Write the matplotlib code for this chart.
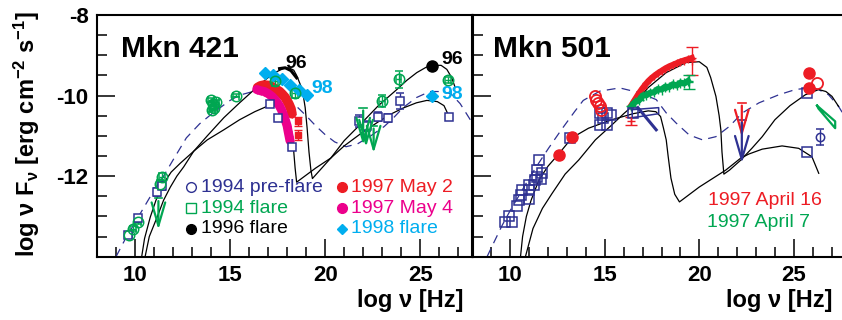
import matplotlib.pyplot as plt

plt.rcParams['font.family'] = 'Liberation Sans'
plt.rcParams['axes.unicode_minus'] = False
plt.rcParams['mathtext.fontset'] = 'custom'
plt.rcParams['mathtext.rm'] = 'Liberation Sans:bold'
plt.rcParams['mathtext.it'] = 'Liberation Sans:bold'
plt.rcParams['mathtext.bf'] = 'Liberation Sans:bold'
plt.rcParams['mathtext.default'] = 'rm'

BLUE = '#2E3192'
GREEN = '#00A651'
RED = '#ED1C24'
MAGENTA = '#EC008C'
CYAN = '#00AEEF'

# ---------------- Mkn 421 data ----------------
pre421_x = [9.65, 10.15, 11.15, 11.4, 17.1, 17.5, 18.25, 21.8, 22.2, 22.8, 23.3, 23.95, 26.5]
pre421_y = [-13.45, -13.05, -12.4, -12.25, -10.22, -10.56, -11.27, -10.64, -10.75, -10.52, -10.56, -10.14, -10.52]
pre421_err = [0.05, 0.05, 0.1, 0.1, 0.05, 0.05, 0.08, 0.15, 0.12, 0.1, 0.1, 0.2, 0.05]

flare421_x = [9.7, 9.9, 10.17, 11.3, 11.42, 14.0, 14.1, 14.15, 14.25, 14.05, 15.3, 17.35, 18.4, 22.98, 23.86, 26.45]
flare421_y = [-13.46, -13.3, -13.13, -12.2, -12.02, -10.1, -10.2, -10.3, -10.15, -10.35, -10.0, -9.65, -9.93, -10.14, -9.6, -9.62]
flare421_err = [0.05, 0.05, 0.05, 0.1, 0.1, 0.05, 0.05, 0.05, 0.05, 0.05, 0.03, 0.12, 0.12, 0.15, 0.2, 0.08]
# upper limits: x, top, arrow tip
flare421_ul_x = [11.23, 22.0, 22.15, 22.55]
flare421_ul_top = [-12.55, -10.3, -10.8, -10.75]
flare421_ul_tip = [-13.4, -11.3, -11.35, -11.5]

f96_x = [25.63]
f96_y = [-9.27]
f96_opt_x = [17.6, 17.9, 18.2, 18.5]
f96_opt_y = [-9.33, -9.31, -9.38, -9.56]

may2_x = [16.45, 16.6, 16.8, 17.0, 17.2, 17.4, 17.6, 17.75, 17.9, 18.0, 18.1, 18.2, 18.25]
may2_y = [-9.8, -9.76, -9.74, -9.75, -9.78, -9.84, -9.9, -9.97, -10.05, -10.13, -10.22, -10.33, -10.45]
may2_pts_x = [18.58, 18.58]
may2_pts_y = [-10.64, -10.98]

may4_x = [16.4, 16.6, 16.8, 17.0, 17.2, 17.4, 17.55, 17.7, 17.8, 17.9, 18.0, 18.05, 18.1, 18.15]
may4_y = [-9.85, -9.88, -9.9, -9.95, -10.02, -10.12, -10.22, -10.35, -10.47, -10.6, -10.75, -10.88, -11.0, -11.12]

f98_x = [16.84, 17.28, 17.72, 18.16, 18.6, 19.03, 25.61]
f98_y = [-9.43, -9.48, -9.6, -9.73, -9.85, -9.98, -10.02]

# model curves for Mkn 421
m421_hi_x = [10.53, 10.75, 11.16, 11.5, 11.86, 12.2, 12.56, 13.09, 13.8, 14.67, 15.5, 16.3, 16.93,
             17.4, 17.8, 18.1, 18.35, 18.5, 18.8, 18.95, 19.05, 19.15, 19.25, 19.33, 20.3, 21.0,
             21.84, 22.8, 23.77, 24.3, 24.82, 25.3, 25.65, 26.1, 26.4, 26.65, 26.84]
m421_hi_y = [-14.0, -13.5, -13.02, -12.6, -12.27, -12.0, -11.77, -11.38, -11.0, -10.55, -10.18, -9.84, -9.58,
             -9.42, -9.33, -9.31, -9.37, -9.5, -9.85, -10.3, -10.8, -11.4, -11.85, -12.06, -11.55, -11.12,
             -10.72, -10.25, -9.85, -9.62, -9.43, -9.3, -9.25, -9.25, -9.35, -9.55, -9.8]
m421_lo_x = [10.35, 10.5, 10.8, 11.1, 11.51, 11.9, 12.38, 13.09, 13.8, 14.67, 15.5, 16.3, 16.93, 17.4,
             17.7, 17.89, 18.1, 18.25, 18.35, 18.42, 18.5, 19.5, 20.3, 21.0, 22.0, 22.9, 23.5, 24.1,
             24.8, 25.35, 25.9, 26.25, 26.5]
m421_lo_y = [-14.0, -13.55, -13.02, -12.6, -12.18, -11.9, -11.68, -11.38, -11.1, -10.85, -10.6, -10.4, -10.27, -10.25,
             -10.3, -10.43, -10.7, -10.98, -11.4, -11.8, -12.15, -11.8, -11.55, -11.25, -10.9, -10.62, -10.45, -10.31,
             -10.18, -10.12, -10.15, -10.25, -10.5]
ssc421_x = [9.0, 9.5, 10.0, 10.5, 11.0, 11.5, 12.0, 12.7, 13.4, 14.1, 15.0, 15.5, 16.2, 16.9, 17.5, 18.0,
            18.5, 19.0, 19.5, 20.0, 20.5, 21.1, 21.7, 22.4, 23.1, 23.6, 24.1, 24.8, 25.5, 26.1, 26.6, 27.1, 27.7]
ssc421_y = [-14.0, -13.55, -13.15, -12.75, -12.35, -12.0, -11.6, -11.05, -10.7, -10.43, -10.12, -9.99, -9.9, -9.87, -9.97, -10.1,
            -10.27, -10.5, -10.75, -10.97, -11.15, -11.27, -11.2, -11.0, -10.77, -10.55, -10.3, -10.05, -9.9, -9.9, -9.95, -10.2, -10.65]

# ---------------- Mkn 501 data ----------------
pre501_x = [9.74, 10.09, 9.91, 10.35, 10.44, 10.54, 10.63, 10.98, 10.98, 10.98, 11.25, 11.33, 11.42, 11.42,
            11.51, 11.6, 11.68, 13.16, 14.74, 15.09, 15.35, 14.74, 15.09, 14.91, 16.49, 25.7, 25.7]
pre501_y = [-13.14, -13.14, -12.98, -12.73, -12.6, -12.48, -12.35, -12.56, -12.35, -12.23, -12.23, -12.1, -12.02, -11.85,
            -11.6, -12.06, -11.93, -11.06, -10.43, -10.43, -10.48, -10.73, -10.73, -10.56, -10.43, -9.93, -11.39]
pre501_err_x = [26.4]
pre501_err_y = [-11.02]
pre501_err = [0.2]
pre501_bow_x = [16.45, 17.85, 17.85, 16.45, 16.45]
pre501_bow_y = [-10.35, -10.3, -10.45, -10.55, -10.35]
pre501_slope_x = [16.75, 17.72]
pre501_slope_y = [-10.3, -10.85]

apr16_x = [12.56, 13.26, 25.79, 25.79]
apr16_y = [-11.48, -11.02, -9.45, -9.81]
apr16_open_x = [14.47, 14.56, 14.65, 14.74, 14.82, 26.23]
apr16_open_y = [-10.02, -10.1, -10.18, -10.27, -10.35, -9.7]
apr16_band_x = [16.4, 16.6, 16.8, 17.0, 17.2, 17.4, 17.6, 17.8, 18.0, 18.2, 18.4, 18.6, 18.8, 19.0, 19.2, 19.4, 19.6]
apr16_band_y = [-10.25, -10.1, -9.95, -9.82, -9.7, -9.6, -9.52, -9.45, -9.39, -9.33, -9.28, -9.24, -9.2, -9.16, -9.13, -9.1, -9.07]
apr16_eb_x = [16.4, 19.6]
apr16_eb_y = [-10.64, -9.15]
apr16_eb = [0.1, 0.35]

apr7_band_x = [16.4, 16.6, 16.8, 17.0, 17.2, 17.4, 17.6, 17.8, 18.0, 18.2, 18.4, 18.6, 18.8, 19.0, 19.2, 19.4]
apr7_band_y = [-10.27, -10.16, -10.12, -10.0, -9.99, -9.93, -9.92, -9.84, -9.85, -9.78, -9.79, -9.72, -9.75, -9.68, -9.7, -9.64]
apr7_eb_x = [19.45]
apr7_eb_y = [-9.66]
apr7_eb = [0.18]
apr7_bow_x = [26.23, 27.19, 27.19, 26.3, 26.23]
apr7_bow_y = [-10.25, -10.64, -10.81, -10.32, -10.25]

# TeV upper limits (x, cap, arrow tip)
ul501_x = [22.25, 22.25]
ul501_top = [-10.18, -10.6]
ul501_tip = [-11.1, -11.75]
ul501_col = [RED, BLUE]

m501_hi_x = [10.8, 11.2, 11.7, 12.21, 12.9, 13.62, 14.5, 15.37, 16.0, 16.49, 17.3, 18.25, 19.3, 20.0,
             20.4, 20.6, 20.88, 21.05, 21.14, 21.2, 21.3, 21.6, 22.2, 22.8, 23.33, 24.0, 24.8, 25.61,
             26.32, 26.7, 27.02, 27.37]
m501_hi_y = [-14.0, -13.3, -12.8, -12.43, -11.95, -11.6, -11.1, -10.73, -10.45, -10.25, -9.8, -9.43, -9.18, -9.16,
             -9.3, -9.55, -10.02, -10.5, -10.85, -11.4, -11.95, -11.85, -11.6, -11.3, -11.02, -10.6, -10.25, -9.98,
             -9.85, -9.9, -10.02, -10.27]
m501_lo_x = [10.54, 10.65, 10.85, 11.1, 11.51, 12.0, 12.56, 13.26, 14.14, 15.37, 16.5, 17.3, 17.7, 17.95,
             18.1, 18.25, 18.35, 18.5, 18.7, 18.95, 20.0, 21.4, 22.2, 22.63, 23.33, 24.38, 25.26, 25.96, 26.32]
m501_lo_y = [-14.0, -13.5, -13.0, -12.6, -12.1, -11.75, -11.45, -11.05, -10.81, -10.6, -10.45, -10.38, -10.4, -10.52,
             -10.8, -11.1, -11.5, -12.05, -12.45, -12.64, -12.27, -11.85, -11.55, -11.45, -11.33, -11.25, -11.31, -11.52, -11.93]
ssc501_x = [8.77, 9.2, 9.56, 10.0, 10.5, 11.0, 11.5, 12.02, 12.7, 13.4, 13.86, 14.74, 15.79, 16.84, 17.72,
            18.25, 18.77, 19.47, 20.17, 20.88, 21.58, 22.28, 23.16, 24.21, 25.09, 25.79, 26.3, 26.84, 27.37, 27.8]
ssc501_y = [-14.0, -13.58, -13.23, -12.85, -12.45, -12.05, -11.68, -11.31, -10.85, -10.4, -10.12, -9.89, -9.81, -9.93, -10.1,
            -10.43, -10.68, -10.98, -11.1, -11.02, -10.77, -10.43, -10.18, -9.98, -9.85, -9.81, -9.85, -9.98, -10.27, -10.6]

# legend entries for the Mkn 421 panel
leg_labels = ['1994 pre-flare', '1994 flare', '1996 flare', '1997 May 2', '1997 May 4', '1998 flare']
leg_colors = [BLUE, GREEN, 'black', RED, MAGENTA, CYAN]
leg_markers = ['o', 's', 'o', 'o', 'o', 'D']
leg_filled = [False, False, True, True, True, True]

# ---------------- figure ----------------
W, H = 842, 320
fig = plt.figure(figsize=(W / 100, H / 100), dpi=100)
ax1 = fig.add_axes([97 / W, 63.3 / H, 375.5 / W, 241.7 / H])
ax2 = fig.add_axes([472.5 / W, 63.3 / H, 378 / W, 241.7 / H])


def setup(ax, xmax, show_ylabels):
    ax.set_xlim(8, xmax)
    ax.set_ylim(-14, -8)
    ax.set_xticks([10, 15, 20, 25])
    ax.set_xticks(range(8, int(xmax) + 1), minor=True)
    ax.set_yticks([-12, -10, -8])
    ax.set_yticks([-14 + 0.5 * i for i in range(13)], minor=True)
    ax.tick_params(which='both', direction='in', top=False, right=False, width=1.1)
    ax.tick_params(which='major', length=13, labelsize=16, pad=6)
    ax.tick_params(which='minor', length=7)
    ax.tick_params(axis='y', labelleft=show_ylabels)
    for lab in ax.get_xticklabels() + ax.get_yticklabels():
        lab.set_fontweight('bold')
    for sp in ax.spines.values():
        sp.set_linewidth(1.5)


setup(ax1, 27.75, True)
setup(ax2, 28, False)
ax2.spines['right'].set_visible(False)


def upper_limits(ax, xs, tops, tips, colors):
    for x, t, b, c in zip(xs, tops, tips, colors):
        ax.plot([x - 0.2, x + 0.2], [t, t], color=c, lw=1.2)
        ax.annotate('', xy=(x, b), xytext=(x, t),
                    arrowprops=dict(arrowstyle='->, head_length=1.2, head_width=0.35',
                                    color=c, lw=1.6, mutation_scale=14))


# ----- Mkn 421 panel -----
ax1.plot(ssc421_x, ssc421_y, color=BLUE, lw=0.9, dashes=(7, 5))
ax1.plot(m421_hi_x, m421_hi_y, color='black', lw=0.9)
ax1.plot(m421_lo_x, m421_lo_y, color='black', lw=0.9)

ax1.plot(may2_x, may2_y, color=RED, lw=7, solid_capstyle='round')
ax1.plot(may2_x, may2_y, '+', color=RED, ms=6)
ax1.errorbar(may2_pts_x, may2_pts_y, yerr=0.12, fmt='s', color=RED, ms=4, capsize=3, lw=1)
ax1.plot(may4_x, may4_y, color=MAGENTA, lw=6.5, solid_capstyle='round')
ax1.plot(may4_x, may4_y, '+', color=MAGENTA, ms=6)

ax1.errorbar(pre421_x, pre421_y, yerr=pre421_err, fmt='s', mfc='white', mec=BLUE, ecolor=BLUE,
             ms=6, mew=1.1, capsize=3, elinewidth=1)
ax1.errorbar(flare421_x, flare421_y, yerr=flare421_err, xerr=0.15, fmt='o', mfc='none', mec=GREEN,
             ecolor=GREEN, ms=7.5, mew=1.1, capsize=3, elinewidth=1)
upper_limits(ax1, flare421_ul_x, flare421_ul_top, flare421_ul_tip, [GREEN] * 4)

ax1.plot(f96_opt_x, f96_opt_y, color='black', lw=2.2)
ax1.plot(f96_x, f96_y, 'o', color='black', ms=8)
ax1.plot(f98_x, f98_y, 'D', color=CYAN, ms=6.5)

ax1.text(18.46, -9.2, '96', ha='center', va='center', fontsize=14, fontweight='bold')
ax1.text(26.67, -9.1, '96', ha='center', va='center', fontsize=14, fontweight='bold')
ax1.text(19.87, -9.83, '98', ha='center', va='center', fontsize=14, fontweight='bold', color=CYAN)
ax1.text(26.7, -9.98, '98', ha='center', va='center', fontsize=14, fontweight='bold', color=CYAN)

leg_rows = [-12.27, -12.8, -13.31]
for i, (lab, col, mk, filled) in enumerate(zip(leg_labels, leg_colors, leg_markers, leg_filled)):
    mx, tx = (12.93, 13.45) if i < 3 else (20.86, 21.38)
    yy = leg_rows[i % 3]
    ax1.plot(mx, yy, mk, color=col, mfc=col if filled else 'none', ms=7 if mk != 'D' else 5.5, mew=1)
    ax1.text(tx, yy, lab, color=col, fontsize=14, va='center', ha='left')

ax1.text(0.064, 0.826, 'Mkn 421', transform=ax1.transAxes, fontsize=21.5, fontweight='bold',
         va='baseline')

# ----- Mkn 501 panel -----
ax2.plot(ssc501_x, ssc501_y, color=BLUE, lw=0.9, dashes=(7, 5))
ax2.plot(m501_hi_x, m501_hi_y, color='black', lw=0.9)
ax2.plot(m501_lo_x, m501_lo_y, color='black', lw=0.9)

ax2.plot(apr16_band_x, apr16_band_y, color=RED, lw=4.5)
ax2.plot(apr16_band_x, apr16_band_y, '+', color=RED, ms=6)
ax2.errorbar(apr16_eb_x, apr16_eb_y, yerr=apr16_eb, fmt='+', color=RED, ms=6, capsize=4, lw=1)
ax2.plot(apr7_band_x, apr7_band_y, color=GREEN, lw=4.5)
ax2.plot(apr7_band_x, apr7_band_y, '+', color=GREEN, ms=7)
ax2.errorbar(apr7_eb_x, apr7_eb_y, yerr=apr7_eb, fmt='+', color=GREEN, ms=6, capsize=4, lw=1)
ax2.plot(apr7_bow_x, apr7_bow_y, color=GREEN, lw=1.6)

ax2.plot(pre501_x, pre501_y, 's', mfc='none', mec=BLUE, ms=7, mew=1.1)
ax2.errorbar(pre501_err_x, pre501_err_y, yerr=pre501_err, fmt='o', mfc='none', mec=BLUE,
             ecolor=BLUE, ms=6, mew=1.1, capsize=3, elinewidth=1)
ax2.plot(pre501_bow_x, pre501_bow_y, color=BLUE, lw=1.1)
ax2.plot(pre501_slope_x, pre501_slope_y, color=BLUE, lw=2.2)

ax2.plot(apr16_x, apr16_y, 'o', color=RED, ms=8)
ax2.plot(apr16_open_x, apr16_open_y, 'o', mfc='none', mec=RED, ms=8, mew=1.3)
upper_limits(ax2, ul501_x, ul501_top, ul501_tip, ul501_col)

ax2.text(20.48, -12.6, '1997 April 16', color=RED, fontsize=14, va='center', ha='left')
ax2.text(20.39, -13.14, '1997 April 7', color=GREEN, fontsize=14, va='center', ha='left')
ax2.text(0.054, 0.826, 'Mkn 501', transform=ax2.transAxes, fontsize=21.5, fontweight='bold',
         va='baseline')

# axis labels
fig.text(463 / W, 1 - 300 / H, 'log ν [Hz]', ha='right', va='center', fontsize=17, fontweight='bold')
fig.text(832 / W, 1 - 300 / H, 'log ν [Hz]', ha='right', va='center', fontsize=17, fontweight='bold')
fig.text(27 / W, 1 - 134 / H, r'log ν F$_{\nu}$ [erg cm$^{-2}$ s$^{-1}$]', rotation=90,
         ha='center', va='center', fontsize=17, fontweight='bold')

fig.savefig('out.png', dpi=100, facecolor='white')
